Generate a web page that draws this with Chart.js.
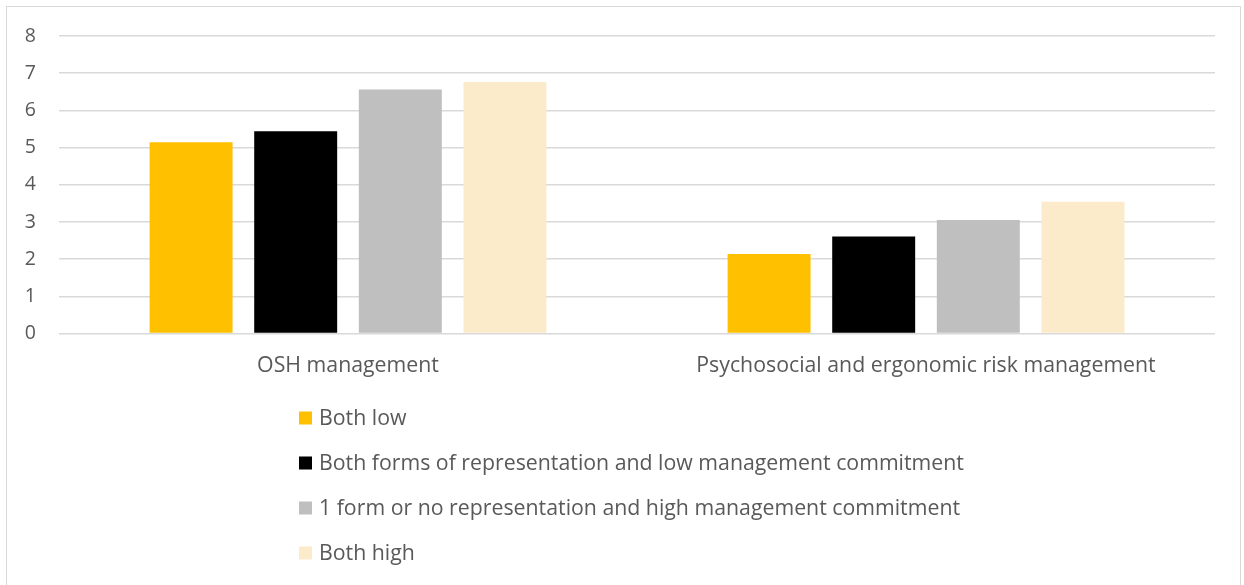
<!DOCTYPE html>
<html>
<head>
<meta charset="utf-8">
<script src="https://cdn.jsdelivr.net/npm/chart.js@4/dist/chart.umd.min.js"></script>
<style>
  html, body { margin: 0; padding: 0; background: #fff; overflow: hidden; }
  #wrap { position: relative; width: 1244px; height: 585px; }
  #frame { position: absolute; left: 6px; top: 6px; width: 1235px; height: 700px; border: 1.5px solid #d9d9d9; box-sizing: border-box; }
  canvas { position: absolute; left: 0; top: 0; }
</style>
</head>
<body>
<div id="wrap">
  <div id="frame"></div>
  <canvas id="c" width="1244" height="585"></canvas>
</div>
<script>
const categories = ["OSH management", "Psychosocial and ergonomic risk management"];
const seriesLabels = [
  "Both low",
  "Both forms of representation and low management commitment",
  "1 form or no representation and high management commitment",
  "Both high"
];
const bothLow = [5.14, 2.14];
const bothFormsLowCommitment = [5.44, 2.61];
const oneFormHighCommitment = [6.56, 3.05];
const bothHigh = [6.76, 3.54];
const yTicks = [0, 1, 2, 3, 4, 5, 6, 7, 8];

const colors = ["#FFC000", "#000000", "#BFBFBF", "#FBEBCB"];
const seriesValues = [bothLow, bothFormsLowCommitment, oneFormHighCommitment, bothHigh];

const FONT = "'Open Sans', 'Noto Sans', sans-serif";
const TEXT = "#595959";

const legendPlugin = {
  id: "vertLegend",
  afterDraw(chart) {
    const ctx = chart.ctx;
    ctx.save();
    ctx.font = "21.3px " + FONT;
    ctx.textBaseline = "middle";
    ctx.textAlign = "left";
    chart.data.datasets.forEach((ds, i) => {
      const cy = 418 + i * 45;
      ctx.fillStyle = ds.backgroundColor;
      ctx.fillRect(299, cy - 6.5, 13, 13);
      ctx.fillStyle = TEXT;
      ctx.fillText(ds.label, 319, cy + 1);
    });
    ctx.restore();
  }
};

new Chart(document.getElementById("c"), {
  type: "bar",
  data: {
    labels: categories,
    datasets: seriesLabels.map((l, i) => ({
      label: l,
      data: seriesValues[i],
      backgroundColor: colors[i],
      borderWidth: 0,
      categoryPercentage: 0.724,
      barPercentage: 0.793
    }))
  },
  options: {
    responsive: false,
    animation: false,
    devicePixelRatio: 1,
    layout: { padding: { left: 0, right: 29, top: 36, bottom: 200 } },
    plugins: { legend: { display: false }, tooltip: { enabled: false } },
    scales: {
      x: {
        grid: { display: false, drawTicks: false },
        border: { display: false },
        ticks: { color: TEXT, font: { family: FONT, size: 21.3 }, padding: 20 },
        afterFit(s) { s.height = 585 - 200 - 333.5; }
      },
      y: {
        min: 0, max: 8,
        afterBuildTicks(s) { s.ticks = yTicks.map(v => ({ value: v })); },
        grid: { color: "#d9d9d9", lineWidth: 1.5, drawTicks: false },
        border: { display: false },
        ticks: { color: TEXT, font: { family: FONT, size: 19.5 }, padding: 23 },
        afterFit(s) { s.width = 59; }
      }
    }
  },
  plugins: [legendPlugin]
});
</script>
</body>
</html>
